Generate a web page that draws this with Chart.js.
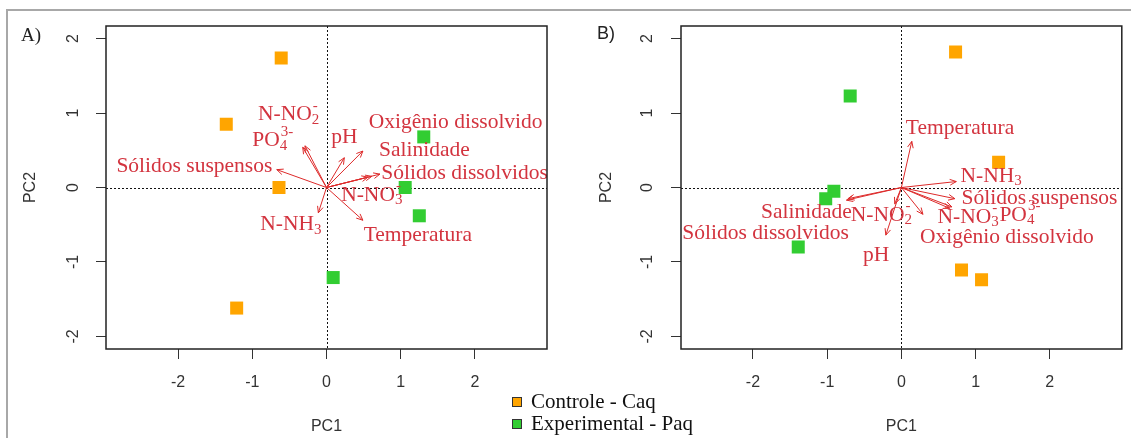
<!DOCTYPE html>
<html>
<head>
<meta charset="utf-8">
<script src="https://cdn.jsdelivr.net/npm/chart.js@4.4.1/dist/chart.umd.min.js"></script>
<style>
  html, body { margin: 0; padding: 0; background: #fff; }
  #page { position: relative; width: 1131px; height: 438px; overflow: hidden; background: #fff; }
  #frame { position: absolute; left: 6px; top: 9px; width: 1140px; height: 440px;
           border-top: 2px solid #a8a8a8; border-left: 2px solid #a8a8a8; }
  #wrapA { position: absolute; left: 0; top: 0; width: 565px; height: 438px; }
  #wrapB { position: absolute; left: 565px; top: 0; width: 566px; height: 438px; }
  #legend { position: absolute; left: 512px; top: 390px; font-family: "Liberation Serif", "Times New Roman", serif;
            font-size: 21px; line-height: 22px; color: #111; }
  #legend .row { display: flex; align-items: center; white-space: nowrap; }
  #legend .sw { display: inline-block; width: 8px; height: 8px; border: 1px solid #333; margin-right: 9px; margin-top: 2px; }
</style>
</head>
<body>
<div id="page">
  <div id="frame"></div>
  <div id="wrapA"><canvas id="chartA" width="565" height="438"></canvas></div>
  <div id="wrapB"><canvas id="chartB" width="566" height="438"></canvas></div>
  <div id="legend"></div>
</div>
<script>
// ---- shared axis ticks and groups ----
const tickValues = [-2, -1, 0, 1, 2];
const seriesNames = ['Controle - Caq', 'Experimental - Paq'];
const seriesColors = ['#FFA500', '#32CD32'];

// ---- environmental variables (main text, subscript, superscript) ----
const varMain = ['Sólidos suspensos', 'PO', 'N-NO', 'pH', 'Oxigênio dissolvido', 'Salinidade',
                 'Sólidos dissolvidos', 'N-NO', 'Temperatura', 'N-NH'];
const varSub  = ['', '4', '2', '', '', '', '', '3', '', '3'];
const varSup  = ['', '3-', '-', '', '', '', '', '-', '', ''];

// ---- A) sample scores ----
const controleA_x = [-0.61, -1.35, -0.64, -1.21];
const controleA_y = [1.74, 0.85, 0.00, -1.62];
const experimentalA_x = [1.31, 1.06, 1.25, 0.09];
const experimentalA_y = [0.68, 0.00, -0.38, -1.21];

// ---- A) variable loadings and label anchors ----
const loadA_x = [-0.67, -0.32, -0.29, 0.24, 0.49, 0.61, 0.72, 0.56, 0.49, -0.11];
const loadA_y = [0.24, 0.54, 0.56, 0.40, 0.49, 0.15, 0.18, 0.14, -0.44, -0.34];
const labA_x = [-1.78, -0.73, -0.51, 0.24, 1.74, 1.32, 1.86, 0.61, 1.23, -0.48];
const labA_y = [0.28, 0.63, 0.98, 0.67, 0.87, 0.50, 0.19, -0.10, -0.64, -0.50];

// ---- B) sample scores ----
const controleB_x = [0.73, 1.31, 0.81, 1.08];
const controleB_y = [1.82, 0.34, -1.11, -1.24];
const experimentalB_x = [-0.69, -0.91, -1.02, -1.39];
const experimentalB_y = [1.23, -0.05, -0.15, -0.80];

// ---- B) variable loadings and label anchors ----
const loadB_x = [0.72, 0.65, -0.09, -0.21, 0.29, -0.74, -0.72, 0.68, 0.14, 0.74];
const loadB_y = [-0.15, -0.28, -0.22, -0.64, -0.36, -0.17, -0.15, -0.26, 0.62, 0.08];
const labB_x = [1.86, 1.59, -0.27, -0.34, 1.42, -1.28, -1.83, 0.90, 0.79, 1.21];
const labB_y = [-0.14, -0.37, -0.37, -0.91, -0.67, -0.33, -0.61, -0.40, 0.80, 0.15];

const ARROW_COLOR = '#dd2a2a';
const LABEL_COLOR = '#d3343f';
const SERIF = '"Liberation Serif", "Times New Roman", serif';
const SANS = '"Liberation Sans", Arial, sans-serif';

function zip(xs, ys) { return xs.map((v, i) => ({ x: v, y: ys[i] })); }

function drawArrow(ctx, x0, y0, x1, y1) {
  const ang = Math.atan2(y1 - y0, x1 - x0);
  const head = 7, spread = Math.PI / 7.5;
  ctx.beginPath();
  ctx.moveTo(x0, y0);
  ctx.lineTo(x1, y1);
  ctx.moveTo(x1 - head * Math.cos(ang - spread), y1 - head * Math.sin(ang - spread));
  ctx.lineTo(x1, y1);
  ctx.lineTo(x1 - head * Math.cos(ang + spread), y1 - head * Math.sin(ang + spread));
  ctx.stroke();
}

function drawLabel(ctx, cx, cy, main, sub, sup) {
  const big = '21.5px ' + SERIF, small = '15px ' + SERIF;
  ctx.font = big;
  const wm = ctx.measureText(main).width;
  ctx.font = small;
  const ws = Math.max(sub ? ctx.measureText(sub).width : 0, sup ? ctx.measureText(sup).width : 0);
  const start = cx - (wm + ws) / 2;
  ctx.textAlign = 'left';
  ctx.textBaseline = 'middle';
  ctx.font = big;
  ctx.fillText(main, start, cy);
  ctx.font = small;
  if (sub) ctx.fillText(sub, start + wm, cy + 5);
  if (sup) ctx.fillText(sup, start + wm + 1, cy - 9);
}

const biplot = {
  id: 'biplot',
  beforeDatasetsDraw(chart, args, o) {
    const { ctx, chartArea: a, scales: { x, y } } = chart;
    const px = Math.round(x.getPixelForValue(0)) + 0.5;
    const py = Math.round(y.getPixelForValue(0)) + 0.5;
    ctx.save();
    ctx.strokeStyle = '#111';
    ctx.lineWidth = 1;
    ctx.setLineDash([2, 2]);
    ctx.beginPath();
    ctx.moveTo(px, a.top); ctx.lineTo(px, a.bottom);
    ctx.moveTo(a.left, py); ctx.lineTo(a.right, py);
    ctx.stroke();
    ctx.restore();
  },
  afterDatasetsDraw(chart, args, o) {
    const { ctx, scales: { x, y } } = chart;
    const x0 = x.getPixelForValue(0), y0 = y.getPixelForValue(0);
    ctx.save();
    ctx.strokeStyle = ARROW_COLOR;
    ctx.lineWidth = 1;
    o.lx.forEach((v, i) => {
      drawArrow(ctx, x0, y0, x.getPixelForValue(v), y.getPixelForValue(o.ly[i]));
    });
    ctx.fillStyle = LABEL_COLOR;
    o.tx.forEach((v, i) => {
      drawLabel(ctx, x.getPixelForValue(v), y.getPixelForValue(o.ty[i]), varMain[i], varSub[i], varSup[i]);
    });
    ctx.restore();
  },
  afterDraw(chart, args, o) {
    const { ctx, chartArea: a } = chart;
    ctx.save();
    ctx.strokeStyle = '#222';
    ctx.lineWidth = 1.5;
    ctx.strokeRect(a.left, a.top, a.right - a.left, a.bottom - a.top);
    ctx.fillStyle = '#222';
    ctx.font = o.tagFont;
    ctx.textAlign = 'center';
    ctx.textBaseline = 'middle';
    ctx.fillText(o.tag, o.tagX, o.tagY);
    ctx.restore();
  }
};

function makeChart(canvasId, ctrl, expt, p) {
  const axisFont = { family: SANS, size: 16 };
  return new Chart(document.getElementById(canvasId), {
    type: 'scatter',
    data: {
      datasets: [
        { label: seriesNames[0], data: ctrl, backgroundColor: seriesColors[0], borderColor: seriesColors[0],
          borderWidth: 0, pointStyle: 'rect', pointRadius: 9.2 },
        { label: seriesNames[1], data: expt, backgroundColor: seriesColors[1], borderColor: seriesColors[1],
          borderWidth: 0, pointStyle: 'rect', pointRadius: 9.2 }
      ]
    },
    options: {
      responsive: false,
      animation: false,
      events: [],
      layout: { padding: { left: 0, top: 26, right: p.padRight, bottom: 0 } },
      plugins: {
        legend: { display: false },
        tooltip: { enabled: false },
        biplot: p
      },
      scales: {
        x: {
          type: 'linear', min: -2.97, max: 2.97,
          afterBuildTicks: s => { s.ticks = tickValues.map(v => ({ value: v })); },
          afterFit: s => { s.height = 89; },
          grid: { display: true, drawOnChartArea: false, drawTicks: true, tickLength: 10, color: '#333', lineWidth: 1 },
          border: { display: false },
          ticks: { padding: 14, color: '#333', font: axisFont, minRotation: 0, maxRotation: 0, autoSkip: false },
          title: { display: true, text: 'PC1', color: '#333', font: axisFont, padding: { top: 0, bottom: 2 } }
        },
        y: {
          type: 'linear', min: -2.17, max: 2.17,
          afterBuildTicks: s => { s.ticks = tickValues.map(v => ({ value: v })); },
          afterFit: s => { s.width = p.yWidth; },
          grid: { display: true, drawOnChartArea: false, drawTicks: true, tickLength: 10, color: '#333', lineWidth: 1 },
          border: { display: false },
          ticks: { padding: p.yTickPad, color: '#333', font: axisFont, minRotation: 90, maxRotation: 90,
                   crossAlign: 'center', autoSkip: false },
          title: { display: true, text: 'PC2', color: '#333', font: axisFont, padding: { top: p.yTitlePad, bottom: 0 } }
        }
      }
    },
    plugins: [biplot]
  });
}

makeChart('chartA', zip(controleA_x, controleA_y), zip(experimentalA_x, experimentalA_y), {
  lx: loadA_x, ly: loadA_y, tx: labA_x, ty: labA_y,
  padRight: 18, yWidth: 106, yTickPad: 15, yTitlePad: 21.4,
  tag: 'A)', tagFont: '19px ' + SERIF, tagX: 31, tagY: 36
});

makeChart('chartB', zip(controleB_x, controleB_y), zip(experimentalB_x, experimentalB_y), {
  lx: loadB_x, ly: loadB_y, tx: labB_x, ty: labB_y,
  padRight: 9, yWidth: 116, yTickPad: 16, yTitlePad: 32.4,
  tag: 'B)', tagFont: '18px ' + SANS, tagX: 41, tagY: 34
});

// group legend
const legend = document.getElementById('legend');
seriesNames.forEach((name, i) => {
  const row = document.createElement('div');
  row.className = 'row';
  const sw = document.createElement('span');
  sw.className = 'sw';
  sw.style.background = seriesColors[i];
  row.appendChild(sw);
  row.appendChild(document.createTextNode(name));
  legend.appendChild(row);
});
</script>
</body>
</html>
